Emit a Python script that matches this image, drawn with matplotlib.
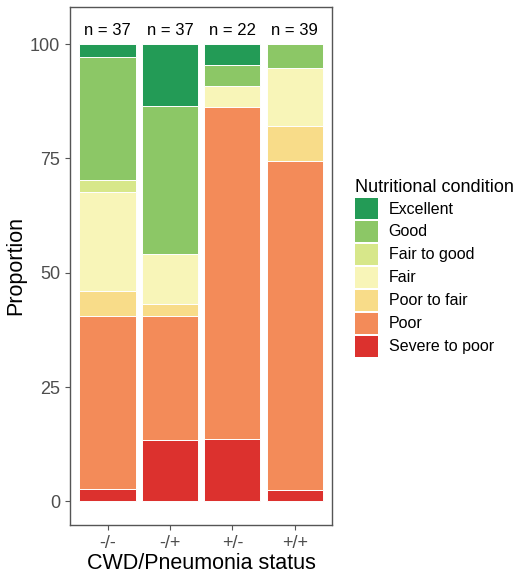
import matplotlib.pyplot as plt
from matplotlib.patches import Patch
import numpy as np

plt.rcParams['font.family'] = ['Liberation Sans', 'DejaVu Sans']

# groups and sample sizes
groups = ["-/-", "-/+", "+/-", "+/+"]
n_sizes = [37, 37, 22, 39]

# condition classes, bottom of stack first
conditions = ["Severe to poor", "Poor", "Poor to fair", "Fair",
              "Fair to good", "Good", "Excellent"]
colors = ["#dc312e", "#f38b59", "#f8dc89", "#f8f5b8",
          "#d7e78a", "#8cc766", "#239b56"]

# counts per condition (rows) for each group (columns)
severe = [1, 5, 3, 1]
poor = [14, 10, 16, 28]
poor_fair = [2, 1, 0, 3]
fair = [8, 4, 1, 5]
fair_good = [1, 0, 0, 0]
good = [10, 12, 1, 2]
excellent = [1, 5, 1, 0]

counts = np.array([severe, poor, poor_fair, fair, fair_good, good, excellent], dtype=float)
props = counts / np.array(n_sizes) * 100

fig = plt.figure(figsize=(5.19, 5.75), dpi=100)
ax = fig.add_axes([0.135, 0.087, 0.505, 0.901])

x = np.arange(1, len(groups) + 1)
bottom = np.zeros(len(groups))
for row, col, lab in zip(props, colors, conditions):
    ax.bar(x, row, width=0.9, bottom=bottom, color=col, edgecolor="white",
           linewidth=0.7, label=lab)
    bottom += row

for xi, n in zip(x, n_sizes):
    ax.text(xi, 103, f"n = {n}", ha="center", va="center", fontsize=12,
            color="black")

ax.set_xlim(0.4, 4.6)
ax.set_ylim(-5.15, 108.15)
ax.set_xticks(x)
ax.set_xticklabels(groups)
ax.set_yticks([0, 25, 50, 75, 100])
ax.tick_params(axis="both", colors="#555555", labelsize=13, length=3.5,
               width=0.8, labelcolor="#4d4d4d")
for s in ax.spines.values():
    s.set_color("#555555")
    s.set_linewidth(1.0)

ax.set_xlabel("CWD/Pneumonia status", fontsize=15.5, labelpad=1)
ax.set_ylabel("Proportion", fontsize=15.5, labelpad=3)

handles = [Patch(facecolor=c, edgecolor="none", label=l)
           for c, l in zip(colors[::-1], conditions[::-1])]
leg = fig.legend(handles=handles, loc="upper left",
                 bbox_to_anchor=(0.672, 0.700), frameon=False,
                 title="Nutritional condition", fontsize=11.5,
                 title_fontsize=13, alignment="left",
                 handlelength=1.4, handleheight=1.65, labelspacing=0.12,
                 handletextpad=0.7, borderaxespad=0)

fig.savefig("out.png", dpi=100)
